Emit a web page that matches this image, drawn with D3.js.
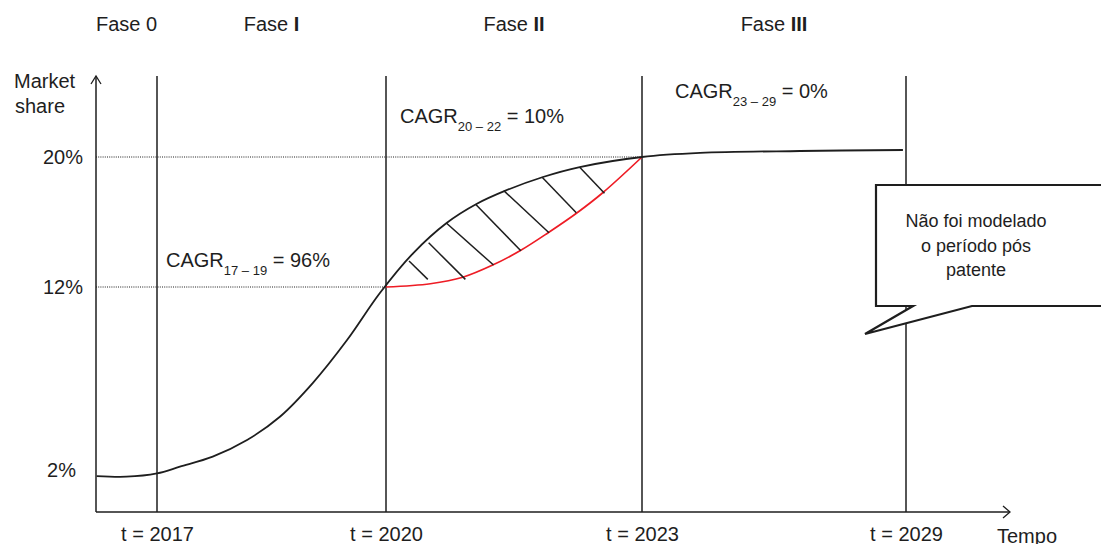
<!DOCTYPE html>
<html lang="pt">
<head>
<meta charset="utf-8">
<script src="https://cdn.jsdelivr.net/npm/d3@7"></script>
<style>
  body { margin: 0; background: #fff; }
  svg { display: block; font-family: "Liberation Sans", Arial, sans-serif; }
</style>
</head>
<body>
<div id="chart"></div>
<script>
// milestones on the time axis
const years = [2017, 2020, 2023, 2029];
const yearLabels = ["t = 2017", "t = 2020", "t = 2023", "t = 2029"];
// market share reference levels (%)
const shareTicks = [2, 12, 20];
// phases between milestones
const phaseNames = ["Fase", "Fase", "Fase", "Fase"];
const phaseNumerals = ["0", "I", "II", "III"];
// CAGR annotations
const cagrPeriods = ["17 – 19", "20 – 22", "23 – 29"];
const cagrValues = ["96%", "10%", "0%"];

// market share curve (year, %)
const curveYears  = [2016.21, 2016.6, 2017.0, 2017.3, 2017.73, 2018.18, 2018.61, 2019.04, 2019.49, 2019.92, 2020.32, 2020.71, 2021.06, 2021.4, 2021.84, 2022.27, 2023.0, 2024.32, 2026.59, 2028.93];
const curveShares = [1.71, 1.68, 1.84, 2.18, 2.73, 3.64, 4.91, 6.75, 9.1, 11.67, 14.09, 15.94, 17.11, 17.93, 18.77, 19.38, 20.0, 20.25, 20.37, 20.43];

// red alternative path in Fase II (year, %)
const altYears  = [2020.0, 2020.52, 2020.9, 2021.25, 2021.57, 2021.9, 2022.24, 2022.54, 2023.0];
const altShares = [12.0, 12.2, 12.6, 13.35, 14.23, 15.34, 16.57, 17.8, 20.0];

// hatching between the two curves: start (on black) and end (near red)
const hatchFromYears  = [2020.27, 2020.5, 2020.71, 2021.05, 2021.38, 2021.83, 2022.27];
const hatchFromShares = [13.6, 14.72, 15.92, 17.09, 17.93, 18.75, 19.37];
const hatchToYears    = [2020.49, 2020.93, 2021.26, 2021.58, 2021.91, 2022.23, 2022.56];
const hatchToShares   = [12.47, 12.47, 13.35, 14.23, 15.34, 16.57, 17.77];

const calloutLines = ["Não foi modelado", "o período pós", "patente"];

const w = 1101, h = 544;
const axisX = 96, axisY = 512, axisTop = 76, axisRight = 1010;
const ink = '#1e1e1e';

const svg = d3.select('#chart').append('svg')
  .attr('width', w).attr('height', h);

// piecewise scales: milestone spacing in the drawing is not proportional
const x = d3.scaleLinear().domain(years).range([157, 386, 642, 906]);
const y = d3.scaleLinear().domain([0, 2, 12, 20]).range([axisY, 470, 287, 157]);

// dotted guides for 12% and 20%
const guides = [[2020, 12], [2023, 20]];
svg.selectAll('line.guide')
  .data(guides)
  .enter().append('line')
  .attr('class', 'guide')
  .attr('x1', axisX).attr('x2', d => x(d[0]))
  .attr('y1', d => y(d[1])).attr('y2', d => y(d[1]))
  .attr('stroke', ink).attr('stroke-width', 1)
  .attr('stroke-dasharray', '1,1.2');

// milestone verticals
svg.selectAll('line.milestone')
  .data(years)
  .enter().append('line')
  .attr('class', 'milestone')
  .attr('x1', d => x(d)).attr('x2', d => x(d))
  .attr('y1', axisTop).attr('y2', axisY)
  .attr('stroke', ink).attr('stroke-width', 1.5);

// axes lines with open arrow heads
svg.append('line')
  .attr('x1', axisX).attr('x2', axisX).attr('y1', axisY).attr('y2', axisTop)
  .attr('stroke', ink).attr('stroke-width', 1.5);
svg.append('path')
  .attr('d', `M${axisX - 5},${axisTop + 8}L${axisX},${axisTop}L${axisX + 5},${axisTop + 8}`)
  .attr('fill', 'none').attr('stroke', ink).attr('stroke-width', 1.3);
svg.append('line')
  .attr('x1', axisX).attr('x2', axisRight).attr('y1', axisY).attr('y2', axisY)
  .attr('stroke', ink).attr('stroke-width', 1.5);
svg.append('path')
  .attr('d', `M${axisRight - 7},${axisY - 6}L${axisRight},${axisY}L${axisRight - 7},${axisY + 6}`)
  .attr('fill', 'none').attr('stroke', ink).attr('stroke-width', 1.3);

// tick labels via d3 axes
const yAxis = d3.axisLeft(y).tickValues(shareTicks).tickSize(0).tickPadding(13)
  .tickFormat(d => d + '%');
const gy = svg.append('g').attr('transform', `translate(${axisX},0)`).call(yAxis);
gy.select('.domain').remove();
gy.selectAll('text').attr('font-size', 20).attr('fill', ink)
  .attr('font-family', '"Liberation Sans", Arial, sans-serif')
  .attr('dx', d => d < 10 ? -7 : 0);

const xAxis = d3.axisBottom(x).tickValues(years).tickSize(0).tickPadding(15)
  .tickFormat((d, i) => yearLabels[i]);
const gx = svg.append('g').attr('transform', `translate(0,${axisY})`).call(xAxis);
gx.select('.domain').remove();
gx.selectAll('text').attr('font-size', 20).attr('fill', ink)
  .attr('font-family', '"Liberation Sans", Arial, sans-serif');

svg.append('text').attr('x', 997).attr('y', 543)
  .attr('font-size', 20).attr('fill', ink).text('Tempo');

svg.append('text').attr('x', 14).attr('y', 88)
  .attr('font-size', 20).attr('fill', ink).text('Market');
svg.append('text').attr('x', 15).attr('y', 113)
  .attr('font-size', 20).attr('fill', ink).text('share');

// phase headers, centered between milestones
const bounds = [x.invert(axisX)].concat(years);
const ph = svg.selectAll('text.phase')
  .data(phaseNames)
  .enter().append('text')
  .attr('class', 'phase')
  .attr('x', (d, i) => (x(bounds[i]) + x(bounds[i + 1])) / 2)
  .attr('y', 31)
  .attr('text-anchor', 'middle')
  .attr('font-size', 20).attr('fill', ink);
ph.append('tspan').text(d => d + ' ');
ph.append('tspan')
  .attr('font-weight', (d, i) => i === 0 ? 'normal' : 'bold')
  .text((d, i) => phaseNumerals[i]);

// CAGR labels
const cagrPos = [[166, 267], [400, 123], [675, 98]];
const cg = svg.selectAll('text.cagr')
  .data(cagrPeriods)
  .enter().append('text')
  .attr('class', 'cagr')
  .attr('x', (d, i) => cagrPos[i][0])
  .attr('y', (d, i) => cagrPos[i][1])
  .attr('font-size', 20).attr('fill', ink);
cg.append('tspan').text('CAGR');
cg.append('tspan').attr('font-size', 13).attr('dy', 8).text(d => d);
cg.append('tspan').attr('dy', -8).text((d, i) => ' = ' + cagrValues[i]);

// curves
const line = d3.line()
  .x(d => x(d[0])).y(d => y(d[1]))
  .curve(d3.curveCatmullRom.alpha(0.5));

const mainPts = curveYears.map((d, i) => [d, curveShares[i]]);
const altPts = altYears.map((d, i) => [d, altShares[i]]);

svg.append('path')
  .datum(altPts)
  .attr('d', line)
  .attr('fill', 'none').attr('stroke', '#ee1c25').attr('stroke-width', 1.7);

svg.selectAll('line.hatch')
  .data(hatchFromYears)
  .enter().append('line')
  .attr('class', 'hatch')
  .attr('x1', d => x(d)).attr('y1', (d, i) => y(hatchFromShares[i]))
  .attr('x2', (d, i) => x(hatchToYears[i])).attr('y2', (d, i) => y(hatchToShares[i]))
  .attr('stroke', ink).attr('stroke-width', 1.5);

svg.append('path')
  .datum(mainPts)
  .attr('d', line)
  .attr('fill', 'none').attr('stroke', ink).attr('stroke-width', 1.8);

// callout bubble
const bx = 876, by = 185, bb = 306;
svg.append('path')
  .attr('d', `M${bx},${by}H${w + 10}V${bb}H972L865,334L913,${bb}H${bx}Z`)
  .attr('fill', '#fff').attr('stroke', ink).attr('stroke-width', 2.2)
  .attr('stroke-linejoin', 'miter');

svg.selectAll('text.callout')
  .data(calloutLines)
  .enter().append('text')
  .attr('class', 'callout')
  .attr('x', 976)
  .attr('y', (d, i) => 227 + i * 24.5)
  .attr('text-anchor', 'middle')
  .attr('font-size', 18).attr('fill', ink)
  .text(d => d);
</script>
</body>
</html>
